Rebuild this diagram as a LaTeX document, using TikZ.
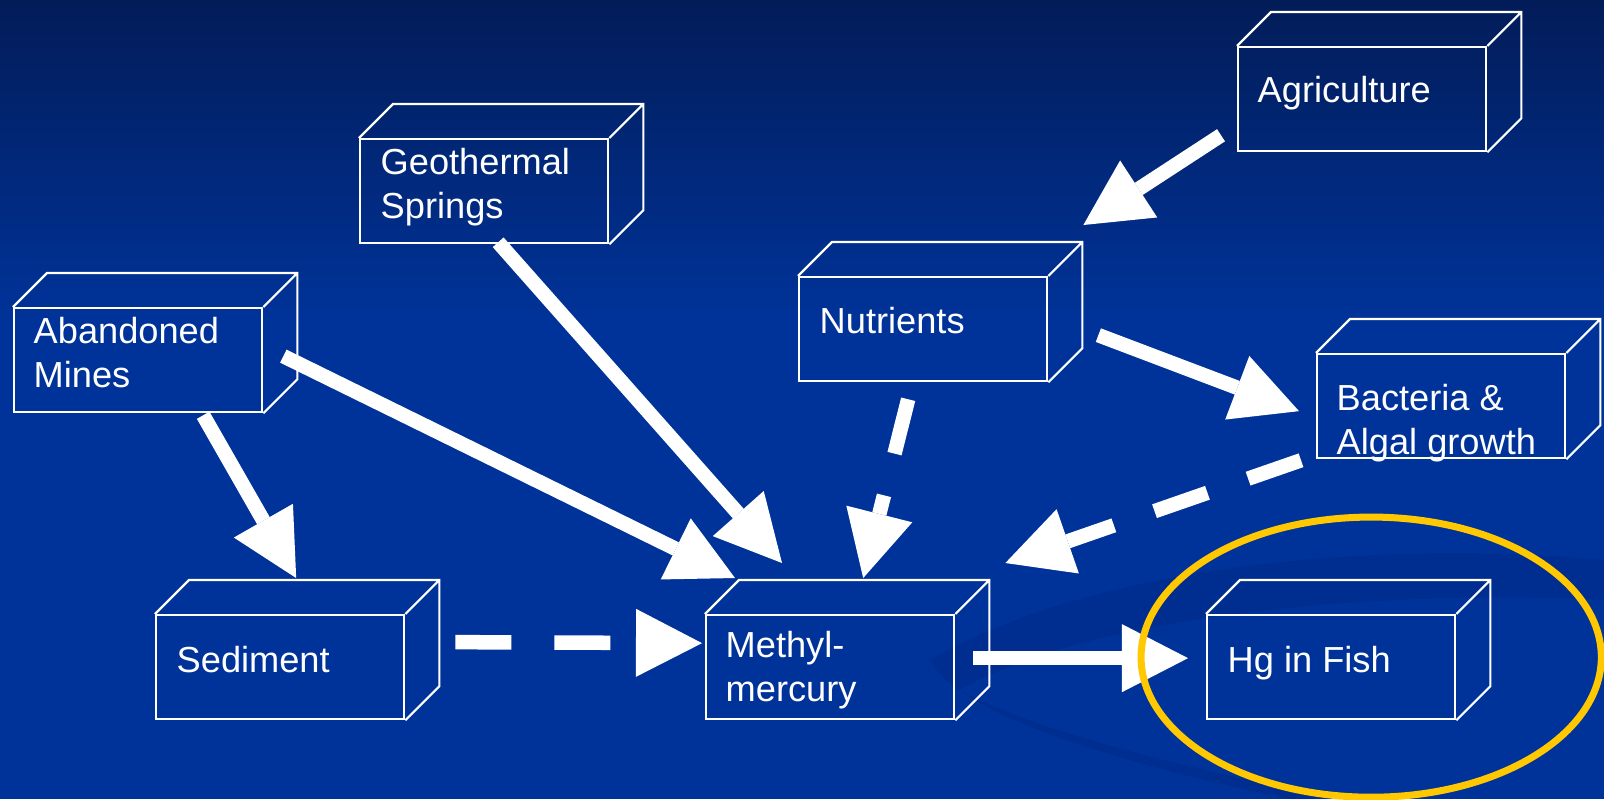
\documentclass[tikz,border=0pt]{standalone}
\usepackage{fontspec}
\setmainfont{Liberation Sans}
\usetikzlibrary{arrows.meta}

\definecolor{navytop}{RGB}{2,28,88}
\definecolor{bluebg}{RGB}{0,51,153}
\definecolor{bluedark}{RGB}{0,42,135}
\definecolor{ringgold}{RGB}{255,200,0}

\begin{document}
\begin{tikzpicture}[x=0.01cm, y=-0.01cm,
                        box/.style={draw=white, line width=0.022cm, minimum width=2.48cm, minimum height=1.04cm, inner sep=0pt, anchor=north west},
                        boxtext/.style={text=white, font=\fontsize{10.3}{12.5}\selectfont, align=left, anchor=base west, inner sep=0pt},
                        rim/.style={white, line width=0.022cm},
                        flow/.style={white, line width=0.145cm, -{Triangle[width=0.68cm, length=0.66cm, line width=0pt]}},
                        dflow/.style={flow, dash pattern=on 0.56cm off 0.43cm}]

      \useasboundingbox (0,0) rectangle (1604,799);
      \fill[bluebg] (0,0) rectangle (1604,799);
      \fill[top color=navytop, bottom color=bluebg] (0,0) rectangle (1604,320);
      % swoosh
      \fill[bluedark, opacity=0.45] (930,660) .. controls (1100,560) and (1400,540) .. (1604,560)
            -- (1604,600) .. controls (1400,590) and (1100,610) .. (960,690)
            .. controls (1050,740) and (1250,780) .. (1340,799) -- (1290,799)
            .. controls (1150,770) and (960,720) .. (930,660) -- cycle;

      \node[box] (mines) at (13,307) {};
      \node[box] (geo) at (359,138) {};
      \node[box] (agri) at (1237,46) {};
      \node[box] (nutr) at (798,276) {};
      \node[box] (bact) at (1316,353) {};
      \node[box] (sed) at (155,614) {};
      \node[box] (meth) at (705,614) {};
      \node[box] (fish) at (1206,614) {};

      \foreach \b in {mines,geo,agri,nutr,bact,sed,meth,fish}
        \draw[rim] (\b.north west) -- ++(34,-34) -- ([shift={(34,-34)}]\b.north east)
                   -- ([shift={(34,-34)}]\b.south east) -- (\b.south east)
                   (\b.north east) -- ++(34,-34);

      % base anchor sits on the last line
      \node[boxtext] (mines-t) at ([shift={(20,80)}]mines.north west) {Abandoned\\Mines};
      \node[boxtext] (geo-t) at ([shift={(21,80)}]geo.north west) {Geothermal\\Springs};
      \node[boxtext] (agri-t) at ([shift={(20,56)}]agri.north west) {Agriculture};
      \node[boxtext] (nutr-t) at ([shift={(21,57)}]nutr.north west) {Nutrients};
      \node[boxtext] (bact-t) at ([shift={(20,101)}]bact.north west) {Bacteria \&\\Algal growth};
      \node[boxtext] (sed-t) at ([shift={(21,58)}]sed.north west) {Sediment};
      \node[boxtext] (meth-t) at ([shift={(20,87)}]meth.north west) {Methyl-\\mercury};
      \node[boxtext] (fish-t) at ([shift={(21,58)}]fish.north west) {Hg in Fish};

      \draw[flow] ([shift={(-16,-17)}]agri.south west) -- ([shift={(35,-51)}]nutr.north east);
      \draw[flow] ([shift={(14,-2)}]geo.south) -- ([shift={(77,-51)}]meth.north west);
      \draw[flow] ([shift={(20,-4)}]mines.east) -- ([shift={(30,-36)}]meth.north west);
      \draw[flow] ([shift={(65,2)}]mines.south) -- ([shift={(16,-36)}]sed.north);
      \draw[flow] ([shift={(50,6)}]nutr.east) -- ([shift={(-17,5)}]bact.west);
      \draw[flow] ([shift={(18,-9)}]meth.east) -- ([shift={(-18,-9)}]fish.west);
      \draw[dflow] ([shift={(-15,17)}]nutr.south) -- ([shift={(33,-36)}]meth.north);
      \draw[dflow] ([shift={(50,-25)}]sed.east) -- ([shift={(-3,-24)}]meth.west);
      \draw[dflow] ([shift={(-15,1)}]bact.south west) -- ([shift={(50,-51)}]meth.north east);

      \draw[ringgold, line width=0.07cm] (fish.center) ++(40,-10) ellipse [x radius=2.3cm, y radius=1.4cm];

    \end{tikzpicture}
\end{document}
